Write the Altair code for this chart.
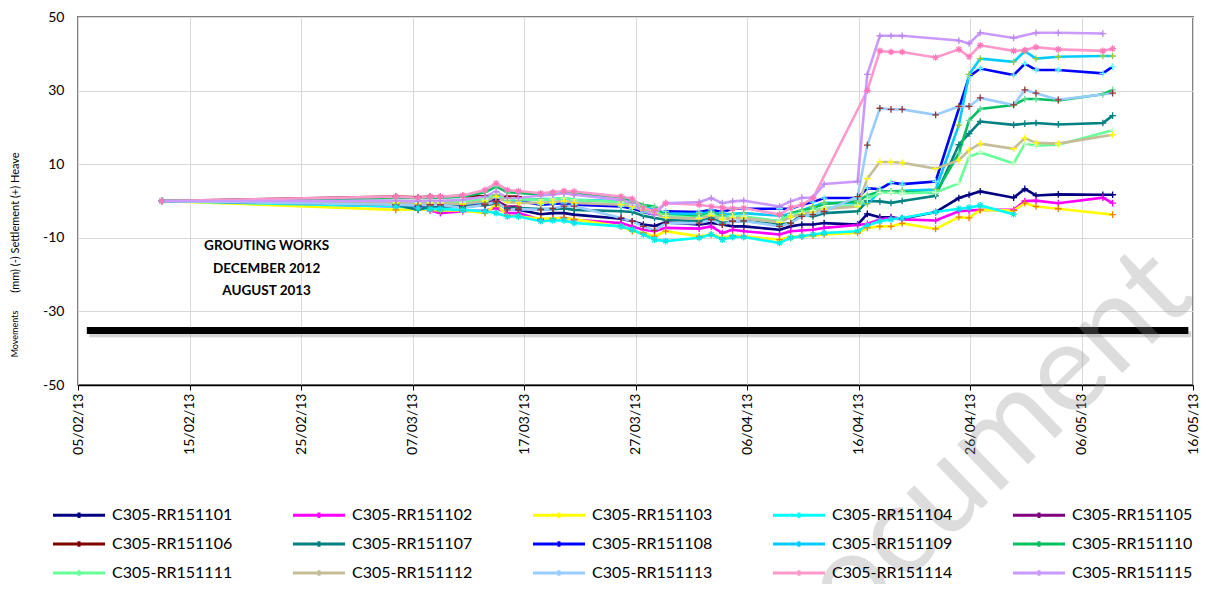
import altair as alt
import pandas as pd

# ---------------- data ----------------
DATES = [
    "2013-02-12T12:00:00", "2013-03-05T12:00:00", "2013-03-07T12:00:00", "2013-03-08T14:00:00",
    "2013-03-09T12:00:00", "2013-03-11T12:00:00", "2013-03-13T12:00:00", "2013-03-14T12:00:00",
    "2013-03-15T12:00:00", "2013-03-16T12:00:00", "2013-03-18T12:00:00", "2013-03-19T14:00:00",
    "2013-03-20T14:00:00", "2013-03-21T12:00:00", "2013-03-25T17:00:00", "2013-03-26T17:00:00",
    "2013-03-27T17:00:00", "2013-03-28T17:00:00", "2013-03-29T17:00:00", "2013-04-01T17:00:00",
    "2013-04-02T19:00:00", "2013-04-03T19:00:00", "2013-04-04T17:00:00", "2013-04-05T17:00:00",
    "2013-04-08T22:00:00", "2013-04-09T22:00:00", "2013-04-10T22:00:00", "2013-04-11T22:00:00",
    "2013-04-12T22:00:00", "2013-04-15T22:00:00", "2013-04-16T19:00:00", "2013-04-17T22:00:00",
    "2013-04-18T22:00:00", "2013-04-19T22:00:00", "2013-04-22T22:00:00", "2013-04-25T00:00:00",
    "2013-04-25T22:00:00", "2013-04-26T22:00:00", "2013-04-29T22:00:00", "2013-04-30T22:00:00",
    "2013-05-01T22:00:00", "2013-05-03T22:00:00", "2013-05-07T22:00:00", "2013-05-08T19:00:00",
]

N = None
S101 = [0, -1.0, -1.5, -1.0, -1.0, -1.5, -1.0, 0.3, -1.9, -2.4,
        -3.6, -3.3, -3.3, -3.7, -4.8, -5.5, -6.4, -6.8, -5.8,
        -6.4, -6.0, -6.4, -6.9, -6.9, -7.8, -6.9, -6.4, -6.4, -6.0,
        -6.4, -3.5, -4.4, -4.4, -4.8, -3.0, 0.8, 1.7, 2.6, 0.9, 3.3, 1.5, 1.8, 1.7, 1.7]
S102 = [0, -1.5, -1.9, -2.6, -3.3, -2.8, -2.6, -1.9, -3.3, -3.3,
        -5.1, -4.8, -4.6, -5.1, -6.0, -6.9, -7.8, -8.2, -7.3,
        -7.5, -6.9, -8.7, -7.8, -8.2, -9.1, -8.2, -8.0, -7.8, -7.3,
        -6.5, -6.2, -5.0, -4.6, -5.0, -5.3, -2.8, -2.6, -2.4, -2.4, 0.0, 0.1, -0.6, 0.9, -0.6]
S103 = [0, -2.4, -2.2, -2.4, -2.6, -2.6, -3.3, -1.0, -4.0, -4.2,
        -4.8, -4.8, -4.6, -5.0, -6.9, -8.2, -8.7, -9.6, -8.2,
        -9.6, -9.1, -10.0, -9.4, -9.6, -10.5, -9.8, -9.6, -9.4, -9.1,
        -8.7, -7.3, -6.9, -6.9, -6.1, -7.6, -4.4, -4.6, -2.4, -2.6, -0.6, -1.5, -2.1, N, -3.7]
S104 = [0, -1.5, -1.9, -2.2, -2.2, -2.4, -2.8, -3.3, -4.2, -4.2,
        -5.5, -5.3, -5.3, -6.0, -6.9, -7.8, -9.1, -10.5, -10.9,
        -10.0, -9.1, -10.5, -9.8, -9.8, -11.4, -10.0, -9.6, -9.1, -8.7,
        -8.2, -6.6, -5.5, -5.0, -4.6, -3.0, -2.1, -1.8, -1.2, -3.6, N, N, N, N, N]
S105 = [0, -0.8, -1.2, -1.0, -1.0, -1.2, -0.8, 0.0, -1.5, -1.5,
        N, N, N, N, N, N, N, N, N,
        N, N, N, N, N, N, N, N, N, N,
        N, N, N, N, N, N, N, N, N, N, N, N, N, N, N]
S106 = [0, 1.2, 1.0, 1.2, 1.2, 1.4, 1.3, 1.5, 1.2, 1.2,
        N, N, N, N, N, N, N, N, N,
        N, N, N, N, N, N, N, N, N, N,
        N, N, N, N, N, N, N, N, N, N, N, N, N, N, N]
S107 = [0, -1.0, -2.4, -1.5, -1.5, -1.5, -1.2, -0.6, -1.9, -1.9,
        -2.2, -2.2, -2.0, -2.4, -2.8, -3.0, -4.0, -4.6, -5.1,
        -5.5, -4.6, -6.0, -5.5, -5.4, -6.4, -6.0, -3.7, -4.2, -3.3,
        -2.8, 0.0, -0.1, -0.5, 0.0, 1.4, 15.3, 18.3, 21.6, 20.7, 21.0, 21.2, 20.8, 21.2, 23.2]
S108 = [0, -0.6, -0.6, -0.3, -0.3, -0.5, 0.0, 1.0, 0.0, 0.0,
        -1.0, -0.8, -0.6, -1.0, -1.5, -2.0, -3.0, -3.7, -2.8,
        -3.0, -2.4, -3.0, -2.1, -2.1, -2.1, -2.1, -1.0, -0.3, 0.8,
        0.8, 3.5, 3.2, 5.0, 4.6, 5.3, N, 33.8, 36.0, 34.2, 37.3, 35.6, 35.6, 34.7, 36.5]
S109 = [0, -0.8, -1.0, -0.6, -0.8, -0.8, -0.3, 1.5, 0.3, 0.2,
        0.5, 0.5, 0.8, 0.3, 0.0, -0.5, -1.5, -2.5, -3.5,
        -3.5, -3.0, -3.7, -3.5, -3.3, -4.0, -3.5, -2.5, -1.5, -0.5,
        -0.6, -0.8, 2.6, 2.6, 2.8, 3.1, 20.6, 34.4, 38.7, 37.8, 40.7, 38.7, 39.2, 39.4, 39.4]
S110 = [0, 0.8, 0.8, 0.8, 0.9, 1.2, 2.4, 3.9, 2.4, 2.2,
        1.8, 2.1, 2.4, 2.1, 1.0, 0.0, -1.1, -1.5, -4.0,
        -4.2, -3.3, -4.2, -4.6, -4.4, -5.5, -3.3, -2.6, -1.9, -0.8,
        -0.1, 1.5, 2.6, 2.6, 2.6, 2.1, 13.0, 21.9, 25.0, 26.1, 27.7, 27.7, 27.3, 29.0, 30.2]
S111 = [0, -0.3, -0.5, -0.3, -0.3, -0.3, 0.5, 2.0, 0.5, 0.5,
        0.3, 0.5, 0.8, 0.3, -0.3, -1.0, -2.0, -3.0, -4.0,
        -4.6, -3.5, -4.6, -4.2, -4.2, -5.5, -3.7, -3.3, -2.6, -1.9,
        -1.2, 0.5, 2.3, 2.3, 2.1, 2.3, 4.8, 12.0, 13.2, 10.2, 15.6, 15.0, 15.3, N, 19.2]
S112 = [0, -0.5, -0.8, -0.6, -0.6, -0.8, 0.0, 1.2, -0.3, -0.5,
        -0.5, -0.3, 0.0, -0.5, -1.0, -1.5, -2.5, -3.5, -4.5,
        -4.8, -4.0, -5.0, -4.6, -4.6, -5.8, -4.4, -3.5, -3.0, -2.2,
        -1.5, 6.1, 10.6, 10.6, 10.4, 8.8, 11.1, 13.8, 15.6, 14.2, 17.1, 15.8, 15.6, N, 18.0]
S113 = [0, -1.0, -1.2, -1.0, -1.0, -1.9, -1.0, -0.2, -2.4, -2.2,
        -2.4, -2.0, -1.4, -1.4, -4.6, -5.5, -6.9, -8.0, -6.0,
        -6.0, -5.1, -6.4, -5.5, -5.4, -6.9, -6.0, -4.2, -3.7, -2.8,
        1.2, 15.2, 25.2, 24.9, 24.9, 23.4, 25.7, 25.7, 28.0, 26.1, 30.2, 29.3, 27.5, N, 29.3]
S114 = [0, 1.2, 0.9, 1.2, 1.2, 1.5, 3.0, 4.8, 3.0, 2.7,
        2.1, 2.4, 2.7, 2.6, 1.2, 0.6, -1.9, -2.8, -0.6,
        -1.0, -1.5, -1.8, -2.1, -1.9, -3.7, -1.8, -1.0, 0.8, N,
        N, 30.0, 40.8, 40.5, 40.5, 39.0, 41.2, 39.2, 42.3, 40.8, 41.0, 41.8, 41.2, 40.8, 41.4]
S115 = [0, 0.05, -0.1, 0.05, 0.05, 0.3, 1.2, 2.6, 0.8, 0.8,
        1.5, 1.7, 2.1, 1.7, 0.3, -0.6, -2.8, -3.7, -0.6,
        -0.3, 0.8, -0.6, -0.1, 0.1, -1.5, -0.1, 0.9, 0.9, 4.6,
        5.3, 34.4, 44.9, 44.9, 44.9, N, 43.6, 42.8, 45.7, 44.3, N, 45.7, 45.7, 45.5, N]

SERIES = ["C305-RR151101", "C305-RR151102", "C305-RR151103", "C305-RR151104", "C305-RR151105",
          "C305-RR151106", "C305-RR151107", "C305-RR151108", "C305-RR151109", "C305-RR151110",
          "C305-RR151111", "C305-RR151112", "C305-RR151113", "C305-RR151114", "C305-RR151115"]
VALUES = [S101, S102, S103, S104, S105, S106, S107, S108, S109, S110, S111, S112, S113, S114, S115]
STAR_SERIES = ["C305-RR151104", "C305-RR151114"]

LINE_COLORS = ["#000080", "#FF00FF", "#FFFF00", "#00FFFF", "#800080",
               "#800000", "#008080", "#0000FF", "#00CCFF", "#00C060",
               "#66FF99", "#C4BD97", "#99CCFF", "#FF99CC", "#CC99FF"]
MARKER_COLORS = ["#000080", "#FF00FF", "#F08000", "#00E8E8", "#E0206F",
                 "#800000", "#008080", "#66FFFF", "#99CC33", "#66DD99",
                 "#CCFFCC", "#FFFF00", "#993333", "#FF77BB", "#BB88EE"]
PLUS = "M-1,0H1M0,-1V1"
STAR = "M-1,0H1M0,-1V1M-0.7,-0.7L0.7,0.7M-0.7,0.7L0.7,-0.7"
LEGEND_SYMBOL = "M-5.2,0H5.2M0,-0.55V0.55"

X_TICKS = ["2013-02-05", "2013-02-15", "2013-02-25", "2013-03-07", "2013-03-17", "2013-03-27",
           "2013-04-06", "2013-04-16", "2013-04-26", "2013-05-06", "2013-05-16"]
Y_TICKS = [-50, -40, -30, -20, -10, 0, 10, 20, 30, 40, 50]

NOTE_LINES = ["GROUTING WORKS", "DECEMBER 2012", "AUGUST 2013"]
NOTE_Y = [-12.3, -18.5, -24.4]
NOTE_X = "2013-02-21T22:00:00"

BAR_START, BAR_END, BAR_Y = "2013-02-05T19:00:00", "2013-05-15T14:00:00", -35.2

# ---------------- build tables ----------------
rows = []
for name, vals in zip(SERIES, VALUES):
    for d, v in zip(DATES, vals):
        if v is not None:
            rows.append({"series": name, "marker": name, "date": d, "value": v})
df = pd.DataFrame(rows)
df_plus = df[~df["marker"].isin(STAR_SERIES)]
df_star = df[df["marker"].isin(STAR_SERIES)]

notes = pd.DataFrame({"date": [NOTE_X] * 3, "v": NOTE_Y, "label": NOTE_LINES})
bar = pd.DataFrame({"start": [BAR_START], "end": [BAR_END], "v": [BAR_Y]})
shadow = pd.DataFrame({"start": ["2013-02-06T00:00:00"], "end": ["2013-05-15T20:00:00"], "v": [BAR_Y - 1.0]})


def dt(s):
    y, m, d = (int(p) for p in s.split("-"))
    return alt.DateTime(year=y, month=m, date=d)


FONT = "Lato"

x_enc = alt.X("date:T",
              scale=alt.Scale(domain=[dt(X_TICKS[0]), dt(X_TICKS[-1])]),
              axis=alt.Axis(values=[dt(t) for t in X_TICKS], format="%d/%m/%y", labelAngle=-90,
                            title=None, grid=True, labelFontSize=14, labelPadding=3,
                            tickSize=5, tickColor="#000", domainColor="#000", domainWidth=1.5,
                            labelColor="#000", labelOverlap=False))
y_enc = alt.Y("value:Q",
              scale=alt.Scale(domain=[-50, 50], nice=False, zero=False),
              axis=alt.Axis(values=Y_TICKS, title="(mm) (-) Settlement (+) Heave",
                            labelExpr="'' + datum.value", labelOverlap=False,
                            titleFontSize=11, titleFontWeight="normal", titleColor="#000",
                            titleX=-63, titleY=205, titleAngle=270, titleAlign="center",
                            titleBaseline="middle",
                            grid=True, domain=False, ticks=False, labelPadding=14,
                            labelFontSize=14, labelColor="#000"))

lines = alt.Chart(df).mark_line(strokeWidth=2.6).encode(
    x=x_enc, y=y_enc,
    color=alt.Color("series:N", scale=alt.Scale(domain=SERIES, range=LINE_COLORS),
                    legend=alt.Legend(orient="none", direction="horizontal",
                                      legendX=-7, legendY=490, columns=5,
                                      title=None, symbolType=LEGEND_SYMBOL, symbolSize=100,
                                      symbolStrokeWidth=3, labelFontSize=16, labelFont=FONT,
                                      labelColor="#000", columnPadding=54, rowPadding=11,
                                      labelOffset=25, labelLimit=0)),
)

marker_stroke = alt.Stroke("marker:N", scale=alt.Scale(domain=SERIES, range=MARKER_COLORS), legend=None)

points_plus = alt.Chart(df_plus).mark_point(
    filled=False, strokeWidth=1.3, size=45, opacity=1, shape=PLUS).encode(
    x="date:T", y="value:Q", stroke=marker_stroke)
points_star = alt.Chart(df_star).mark_point(
    filled=False, strokeWidth=1.2, size=45, opacity=1, shape=STAR).encode(
    x="date:T", y="value:Q", stroke=marker_stroke)

shadow_rule = alt.Chart(shadow).mark_rule(color="#888888", strokeWidth=6, opacity=0.35).encode(
    x="start:T", x2="end:T", y="v:Q")
bar_rule = alt.Chart(bar).mark_rule(color="#000000", strokeWidth=7).encode(
    x="start:T", x2="end:T", y="v:Q")

note_text = alt.Chart(notes).mark_text(font=FONT, fontSize=13.5, fontWeight="bold", color="#000").encode(
    x="date:T", y="v:Q", text="label:N")

ylabel_small = alt.Chart(pd.DataFrame({"t": ["Movements"]})).mark_text(
    font=FONT, fontSize=9, angle=270, color="#000").encode(
    x=alt.value(-63), y=alt.value(317), text="t:N")

watermark = alt.Chart(pd.DataFrame({"t": ["Document"]})).mark_text(
    font=FONT, fontSize=125, angle=316, color="#909090", opacity=0.3).encode(
    x=alt.value(886), y=alt.value(456), text="t:N")

chart = alt.layer(shadow_rule, bar_rule, lines, points_plus, points_star,
                  note_text, ylabel_small, watermark).properties(
    width=1115, height=368,
    autosize=alt.AutoSizeParams(type="none"),
    padding={"left": 70, "top": 9, "right": 9, "bottom": 199},
    background="white",
).configure(font=FONT).configure_view(stroke="#808080", strokeWidth=2).configure_axis(
    gridColor="#d9d9d9", gridWidth=1, labelFont=FONT, titleFont=FONT)

chart.save("out.html", embed_options={"renderer": "svg", "actions": False})
